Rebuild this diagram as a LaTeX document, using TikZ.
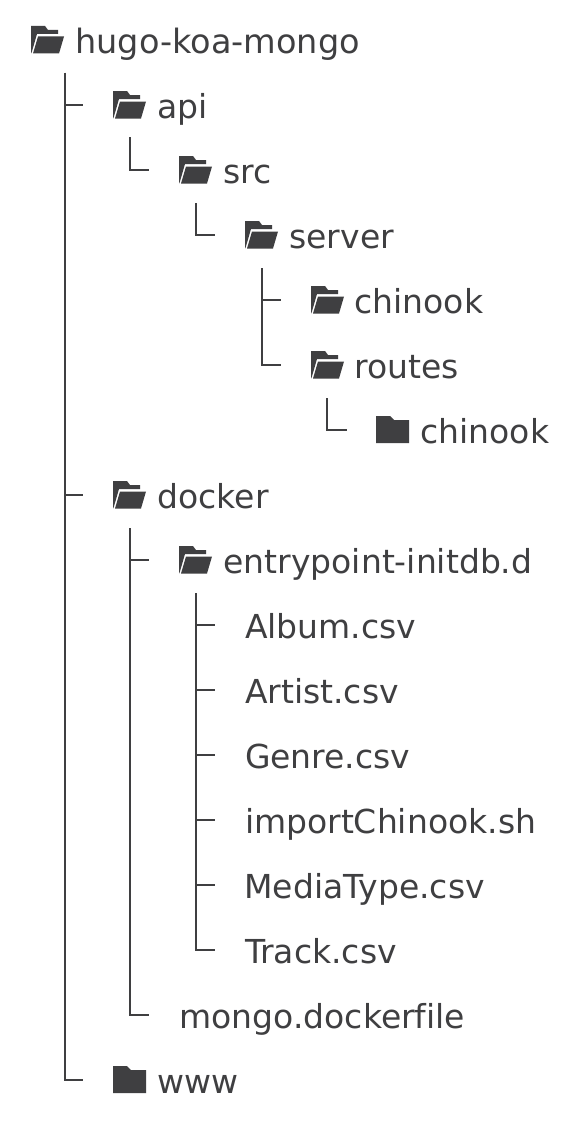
\documentclass[tikz,border=0pt]{standalone}
\usepackage{fontspec}
\setmainfont[Ligatures=NoCommon]{DejaVu Sans}
\definecolor{ink}{HTML}{3F3F41}
\tikzset{
  x=1pt,y=-1pt,
  lab/.style={anchor=base west,inner sep=0pt,outer sep=0pt,text=ink,font=\fontsize{33}{33}\selectfont},
  conn/.style={draw=ink,line width=2.2pt},
  pics/openfolder/.style={code={
    \fill[ink] (0,0) -- (14,0) -- (17,4) -- (27,4) -- (27,8) -- (6,8) -- (0.8,26) -- (0,27.5) -- cycle;
    \fill[ink] (7,10.5) -- (33,10.5) -- (28,27.5) -- (2,27.5) -- cycle;
  }},
  pics/closedfolder/.style={code={
    \fill[ink] (0,0) -- (14,0) -- (18,4) -- (33,4) -- (33,27) -- (0,27) -- cycle;
  }}
}
\begin{document}
\begin{tikzpicture}
\useasboundingbox (0,0) rectangle (580,1124);
\fill[white] (0,0) rectangle (580,1124);
% icons
\pic at (31,26) {openfolder};
\pic at (113,91) {openfolder};
\pic at (179,156) {openfolder};
\pic at (245,221) {openfolder};
\pic at (311,286) {openfolder};
\pic at (311,351) {openfolder};
\pic at (376,416) {closedfolder};
\pic at (113,481) {openfolder};
\pic at (179,546) {openfolder};
\pic at (113,1066) {closedfolder};
% labels
\node[lab,font=\fontsize{33.5}{33.5}\selectfont] (root) at (75.5,53) {hugo-koa-mongo};
\node[lab] (api) at (157.5,118) {api};
\node[lab] (src) at (223.5,183) {src};
\node[lab] (server) at (289.5,248) {server};
\node[lab] (chinookA) at (354.5,313) {chinook};
\node[lab] (routes) at (354.5,378) {routes};
\node[lab] (chinookB) at (420.5,443) {chinook};
\node[lab] (docker) at (157.5,508) {docker};
\node[lab] (entry) at (223.5,573) {entrypoint-initdb.d};
\node[lab] (album) at (245,638) {Album.csv};
\node[lab] (artist) at (245,703) {Artist.csv};
\node[lab] (genre) at (245,768) {Genre.csv};
\node[lab] (import) at (245,833) {importChinook.sh};
\node[lab] (media) at (244.5,898) {MediaType.csv};
\node[lab] (track) at (245,963) {Track.csv};
\node[lab] (mongo) at (179.5,1028) {mongo.dockerfile};
\node[lab] (www) at (157.5,1093) {www};
% spine tops
\coordinate (sRoot) at (65,73);
\coordinate (sApi) at (130,137);
\coordinate (sSrc) at (196,203);
\coordinate (sServer) at (262,268);
\coordinate (sRoutes) at (327,398);
\coordinate (sDocker) at (130,528);
\coordinate (sEntry) at (196,593);
% tick ends
\coordinate (tApi) at (83,105);
\coordinate (tDocker) at (83,495);
\coordinate (tWww) at (83,1080);
\coordinate (tSrc) at (149,170);
\coordinate (tServer) at (215,235);
\coordinate (tChinookA) at (281,300);
\coordinate (tRoutes) at (281,365);
\coordinate (tChinookB) at (347,430);
\coordinate (tEntry) at (149,560);
\coordinate (tMongo) at (149,1015);
\coordinate (tAlbum) at (215,625);
\coordinate (tArtist) at (215,690);
\coordinate (tGenre) at (215,755);
\coordinate (tImport) at (215,820);
\coordinate (tMedia) at (215,885);
\coordinate (tTrack) at (215,950);
% connectors
\foreach \a/\b in {sRoot/tApi,sRoot/tDocker,sRoot/tWww,sApi/tSrc,sSrc/tServer,sServer/tChinookA,sServer/tRoutes,sRoutes/tChinookB,sDocker/tEntry,sDocker/tMongo,sEntry/tAlbum,sEntry/tArtist,sEntry/tGenre,sEntry/tImport,sEntry/tMedia,sEntry/tTrack}
  \draw[conn] (\a) |- (\b);
\end{tikzpicture}
\end{document}
